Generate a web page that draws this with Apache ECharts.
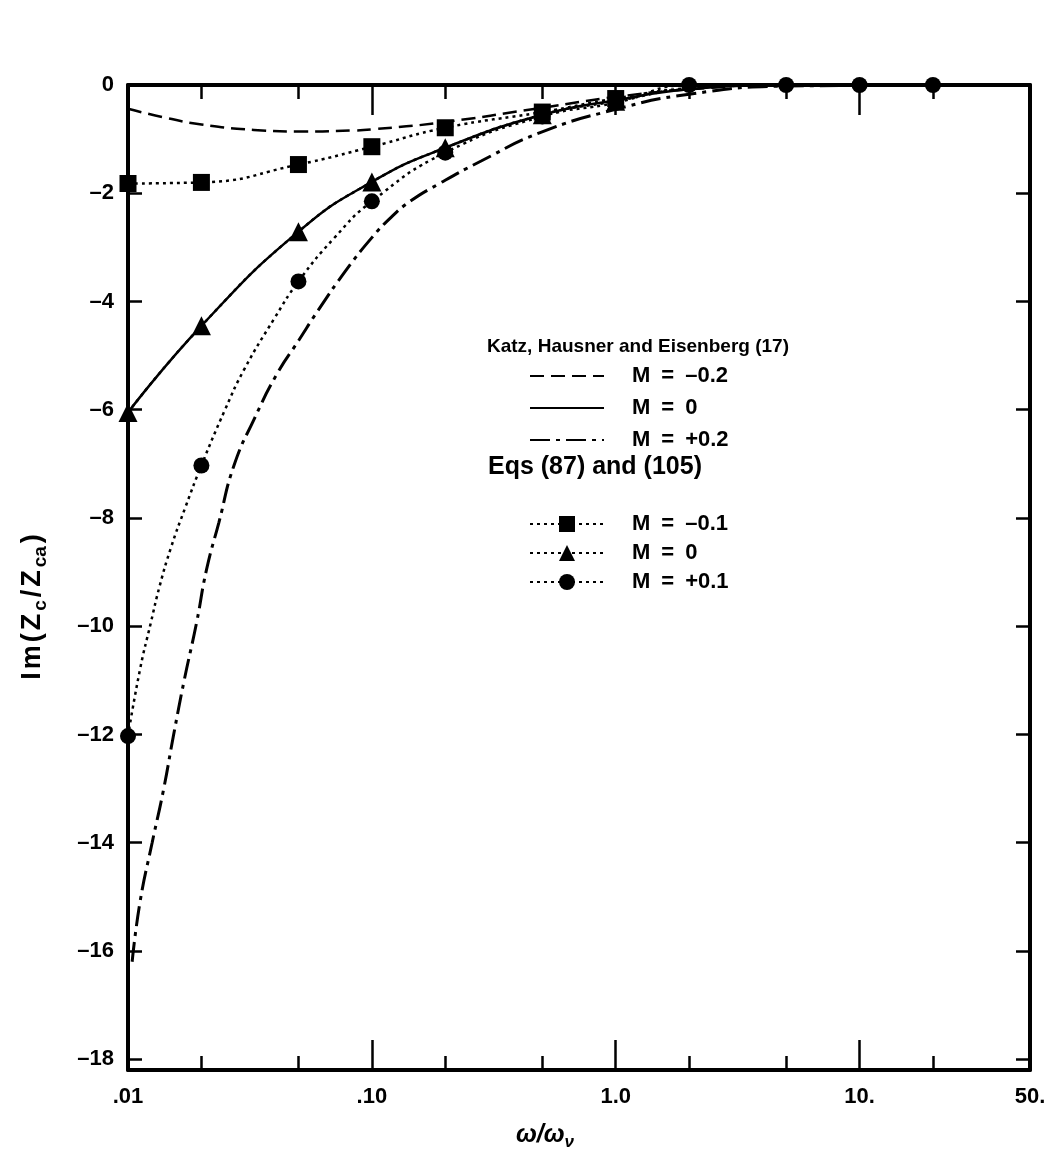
<!DOCTYPE html>
<html><head><meta charset="utf-8">
<script src="https://cdn.jsdelivr.net/npm/echarts@6/dist/echarts.min.js"></script>
<style>html,body{margin:0;padding:0;background:#fff}#c{width:1056px;height:1169px}</style>
</head><body><div id="c"></div>
<script>
// ---- axis ticks / labels ----
const xTickValues = [0.01, 0.1, 1, 10, 50];
const xTickLabels = ['.01', '.10', '1.0', '10.', '50.'];
const xMinorTicks = [0.02, 0.05, 0.2, 0.5, 2, 5, 20];
const xMajorTicks = [0.1, 1, 10];
const yTickValues = [0, -2, -4, -6, -8, -10, -12, -14, -16, -18];

// ---- Katz, Hausner and Eisenberg (17) ----
const katzLabels = ['M\u2002=\u2002\u20130.2', 'M\u2002=\u20020', 'M\u2002=\u2002+0.2'];
const katzNegX = [0.01, 0.0141, 0.02, 0.0328, 0.0527, 0.085, 0.1, 0.187, 0.5, 1, 2, 5, 20];
const katzNegY = [-0.44, -0.60, -0.73, -0.83, -0.86, -0.84, -0.82, -0.70, -0.42, -0.22, -0.08, 0, 0];
const katzZeroX = [0.01, 0.02, 0.05, 0.1, 0.2, 0.5, 1, 2, 5, 20];
const katzZeroY = [-6.05, -4.45, -2.71, -1.79, -1.16, -0.55, -0.28, -0.08, 0, 0];
const katzPosX = [0.0104, 0.0112, 0.01256, 0.01396, 0.01535, 0.0170, 0.0191, 0.0210, 0.0236, 0.0272, 0.0331, 0.0407, 0.0501, 0.0603, 0.0776, 0.1, 0.1202, 0.1445, 0.186, 0.282, 0.49, 1.0, 2.0, 5.0, 20];
const katzPosY = [-16.2, -15.1, -14.0, -13.04, -12.03, -11.0, -9.94, -8.95, -8.08, -7.03, -6.15, -5.35, -4.72, -4.16, -3.45, -2.82, -2.44, -2.14, -1.84, -1.40, -0.88, -0.45, -0.17, -0.02, 0];

// ---- Eqs (87) and (105) ----
const eqLabels = ['M\u2002=\u2002\u20130.1', 'M\u2002=\u20020', 'M\u2002=\u2002+0.1'];
const sqMarkX = [0.01, 0.02, 0.05, 0.1, 0.2, 0.5, 1.0];
const sqMarkY = [-1.82, -1.80, -1.47, -1.14, -0.79, -0.50, -0.25];
const sqCurveX = [2, 5, 20];
const sqCurveY = [-0.06, 0, 0];
const triMarkX = [0.01, 0.02, 0.05, 0.1, 0.2, 0.5, 1.0];
const triMarkY = [-6.05, -4.45, -2.71, -1.79, -1.16, -0.55, -0.30];
const triCurveX = [2, 5, 20];
const triCurveY = [-0.07, 0, 0];
const cirMarkX = [0.01, 0.02, 0.05, 0.1, 0.2, 0.5, 1.0, 2, 5, 10, 20];
const cirMarkY = [-12.03, -7.03, -3.63, -2.15, -1.25, -0.58, -0.33, 0, 0, 0, 0];
const cirCurveX = [0.0112, 0.0124, 0.0135, 0.015, 0.0172, 0.025, 0.03, 0.04, 0.07];
const cirCurveY = [-10.8, -9.94, -9.25, -8.55, -7.8, -6.0, -5.25, -4.3, -2.83];

const FONT = '"Liberation Sans", Arial, Helvetica, sans-serif';

function pairs(xs, ys) { return xs.map((x, i) => [x, ys[i]]); }
function marked(mx, my, cx, cy) {
  const pts = mx.map((x, i) => ({ value: [x, my[i]] }))
    .concat(cx.map((x, i) => ({ value: [x, cy[i]], symbol: 'none' })));
  pts.sort((a, b) => a.value[0] - b.value[0]);
  return pts;
}

const chart = echarts.init(document.getElementById('c'), null, { renderer: 'canvas' });

const gridBox = { left: 128, right: 26, top: 85, bottom: 99, outerBoundsMode: 'none' };
const tickStyle = { color: '#000', width: 2.5 };
function xAx(gridIndex, position, tickVals, tickLen, showLine, showLabel) {
  return {
    type: 'log', logBase: 10, min: 0.01, max: 50, gridIndex, position,
    splitLine: { show: false },
    axisLine: { show: showLine, onZero: false, lineStyle: { color: '#000', width: 4 } },
    axisTick: { show: true, inside: true, length: tickLen, customValues: tickVals, lineStyle: tickStyle },
    axisLabel: showLabel ? {
      show: true, customValues: xTickValues, margin: 16,
      formatter: v => { const i = xTickValues.findIndex(t => Math.abs(t - v) / t < 1e-6); return i >= 0 ? xTickLabels[i] : ''; },
      fontSize: 22, fontWeight: 'bold', fontFamily: FONT, color: '#000'
    } : { show: false }
  };
}

const labelMap = {};
['katz0', 'katz1', 'katz2'].forEach((n, i) => labelMap[n] = katzLabels[i]);
['eq0', 'eq1', 'eq2'].forEach((n, i) => labelMap[n] = eqLabels[i]);

const legendText = { fontSize: 22, fontWeight: 'bold', fontFamily: FONT, color: '#000', lineHeight: 21, padding: [0, 0, 0, 23] };

const option = {
  animation: false,
  backgroundColor: '#fff',
  grid: [Object.assign({}, gridBox), Object.assign({}, gridBox)],
  xAxis: [
    xAx(0, 'bottom', xMinorTicks, 14, true, true),
    xAx(0, 'top', xMinorTicks, 14, true, false),
    xAx(1, 'bottom', xMajorTicks, 30, false, false),
    xAx(1, 'top', xMajorTicks, 30, false, false)
  ],
  yAxis: [
    {
      type: 'value', min: -18.2, max: 0, position: 'left', gridIndex: 0,
      splitLine: { show: false },
      axisLine: { show: true, onZero: false, lineStyle: { color: '#000', width: 4 } },
      axisTick: { show: true, inside: true, length: 14, customValues: yTickValues, lineStyle: tickStyle },
      axisLabel: {
        show: true, customValues: yTickValues, margin: 14,
        formatter: v => v === 0 ? '0' : '\u2013' + Math.abs(v),
        fontSize: 22, fontWeight: 'bold', fontFamily: FONT, color: '#000'
      }
    },
    {
      type: 'value', min: -18.2, max: 0, position: 'right', gridIndex: 0,
      splitLine: { show: false },
      axisLine: { show: true, onZero: false, lineStyle: { color: '#000', width: 4 } },
      axisTick: { show: true, inside: true, length: 14, customValues: yTickValues, lineStyle: tickStyle },
      axisLabel: { show: false }
    },
    { type: 'value', min: -18.2, max: 0, gridIndex: 1, show: false }
  ],
  legend: [
    {
      data: ['katz0', 'katz1', 'katz2'], orient: 'vertical', left: 524, top: 360,
      itemWidth: 74, itemHeight: 14, itemGap: 10, selectedMode: false,
      formatter: n => labelMap[n], textStyle: legendText,
      itemStyle: { opacity: 0 }
    },
    {
      data: ['eq0', 'eq1', 'eq2'], orient: 'vertical', left: 524, top: 508,
      itemWidth: 74, itemHeight: 20, itemGap: 7, selectedMode: false,
      formatter: n => labelMap[n], textStyle: legendText
    }
  ],
  graphic: [
    { type: 'text', x: 487, y: 347, style: { text: 'Katz, Hausner and Eisenberg (17)', font: 'bold 19px ' + FONT, fill: '#000', verticalAlign: 'middle', align: 'left' } },
    { type: 'text', x: 488, y: 467, style: { text: 'Eqs (87) and (105)', font: 'bold 25px ' + FONT, fill: '#000', verticalAlign: 'middle', align: 'left' } },
    {
      type: 'text', x: 33, y: 607, rotation: Math.PI / 2,
      style: {
        text: '{a|I}{a|m}{a|(}{a|Z}{s|c}{a|/}{a|Z}{s|ca}{a|)}', align: 'center', verticalAlign: 'middle', fill: '#000',
        rich: {
          a: { fontSize: 27, fontWeight: 'bold', fontFamily: FONT, lineHeight: 27, padding: [0, 1.5, 0, 1.5], fill: '#000' },
          s: { fontSize: 19, fontWeight: 'bold', fontFamily: FONT, lineHeight: 19, padding: [16, 1.5, 0, 1.5], fill: '#000' }
        }
      }
    },
    {
      type: 'text', x: 545, y: 1135,
      style: {
        text: '{a|\u03c9/\u03c9}{s|\u03bd}', align: 'center', verticalAlign: 'middle', fill: '#000',
        rich: {
          a: { fontSize: 25, fontStyle: 'italic', fontWeight: 'bold', fontFamily: FONT, lineHeight: 26, fill: '#000' },
          s: { fontSize: 17, fontStyle: 'italic', fontWeight: 'bold', fontFamily: FONT, lineHeight: 18, padding: [14, 0, 0, 0], fill: '#000' }
        }
      }
    }
  ],
  series: [
    {
      name: 'katz0', type: 'line', xAxisIndex: 0, yAxisIndex: 0, data: pairs(katzNegX, katzNegY),
      symbol: 'none', smooth: 0.5, color: '#000',
      lineStyle: { color: '#000', width: 2.5, type: [14, 7] }
    },
    {
      name: 'katz1', type: 'line', xAxisIndex: 0, yAxisIndex: 0, data: pairs(katzZeroX, katzZeroY),
      symbol: 'none', smooth: 0.5, color: '#000',
      lineStyle: { color: '#000', width: 2.5, type: 'solid' }
    },
    {
      name: 'katz2', type: 'line', xAxisIndex: 0, yAxisIndex: 0, data: pairs(katzPosX, katzPosY),
      symbol: 'none', smooth: 0.5, color: '#000',
      lineStyle: { color: '#000', width: 3, type: [20, 6, 4, 6] }
    },
    {
      name: 'eq0', type: 'line', xAxisIndex: 0, yAxisIndex: 0, data: marked(sqMarkX, sqMarkY, sqCurveX, sqCurveY),
      symbol: 'rect', symbolSize: 17, showSymbol: true, clip: false, smooth: 0.5, color: '#000',
      itemStyle: { color: '#000' }, lineStyle: { color: '#000', width: 2.5, type: [3, 4] }
    },
    {
      name: 'eq1', type: 'line', xAxisIndex: 0, yAxisIndex: 0, data: marked(triMarkX, triMarkY, triCurveX, triCurveY),
      symbol: 'triangle', symbolSize: 19, showSymbol: true, clip: false, smooth: 0.5, color: '#000',
      itemStyle: { color: '#000' }, lineStyle: { color: '#000', width: 2.5, type: [3, 4] }
    },
    {
      name: 'eq2', type: 'line', xAxisIndex: 0, yAxisIndex: 0, data: marked(cirMarkX, cirMarkY, cirCurveX, cirCurveY),
      symbol: 'circle', symbolSize: 16, showSymbol: true, clip: false, smooth: 0.5, color: '#000',
      itemStyle: { color: '#000' }, lineStyle: { color: '#000', width: 2.5, type: [3, 4] }
    }
  ]
};
chart.setOption(option);
</script>
</body></html>
